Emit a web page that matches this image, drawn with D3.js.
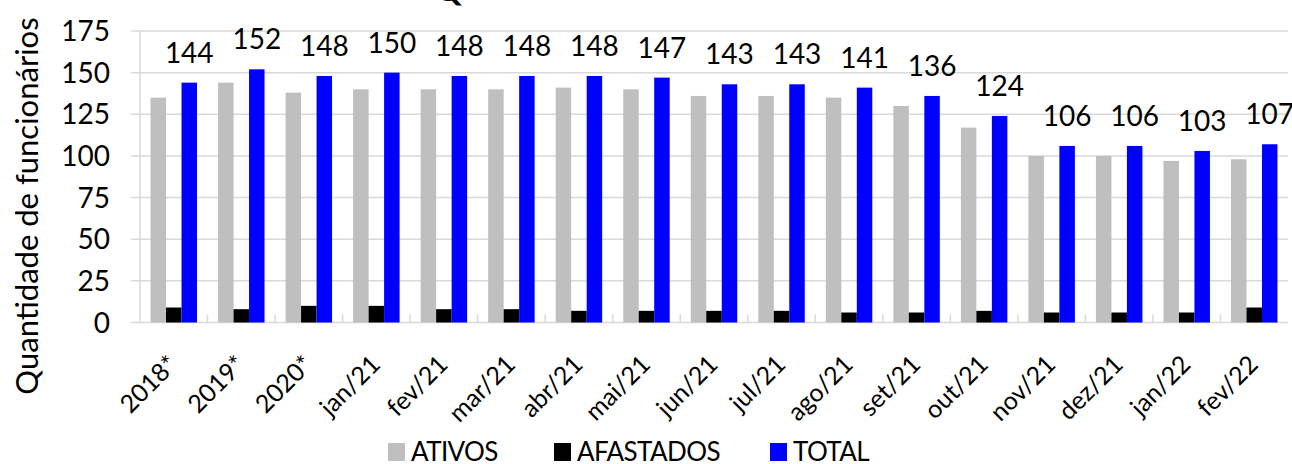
<!DOCTYPE html>
<html>
<head>
<meta charset="utf-8">
<script src="https://cdn.jsdelivr.net/npm/d3@7"></script>
<style>
  body { margin: 0; background: #fff; }
  svg { display: block; font-family: Lato, "Open Sans", sans-serif; }
</style>
</head>
<body>
<svg id="chart" width="1292" height="464"></svg>
<script>
const categories = ["2018*", "2019*", "2020*", "jan/21", "fev/21", "mar/21", "abr/21", "mai/21",
  "jun/21", "jul/21", "ago/21", "set/21", "out/21", "nov/21", "dez/21", "jan/22", "fev/22"];
const ativos    = [135, 144, 138, 140, 140, 140, 141, 140, 136, 136, 135, 130, 117, 100, 100, 97, 98];
const afastados = [9, 8, 10, 10, 8, 8, 7, 7, 7, 7, 6, 6, 7, 6, 6, 6, 9];
const total     = [144, 152, 148, 150, 148, 148, 148, 147, 143, 143, 141, 136, 124, 106, 106, 103, 107];
const seriesNames = ["ATIVOS", "AFASTADOS", "TOTAL"];
const seriesColors = ["#bfbfbf", "#000000", "#0000ff"];
const yTicks = [0, 25, 50, 75, 100, 125, 150, 175];

const svg = d3.select("#chart");
const plotLeft = 140, plotRight = 1288, plotTop = 31, plotBottom = 322.5;

const x = d3.scaleBand().domain(categories).range([plotLeft, plotRight]);
const xs = d3.scaleBand().domain(seriesNames).range([0, x.bandwidth()]).paddingOuter(0.68);
const y = d3.scaleLinear().domain([0, 175]).range([plotBottom, plotTop]);

// gridlines
svg.append("g")
  .selectAll("line")
  .data(yTicks)
  .join("line")
  .attr("x1", plotLeft - 9)
  .attr("x2", plotRight)
  .attr("y1", d => y(d))
  .attr("y2", d => y(d))
  .attr("stroke", "#d9d9d9")
  .attr("stroke-width", 1.5);

// y axis line
svg.append("line")
  .attr("x1", plotLeft).attr("x2", plotLeft)
  .attr("y1", plotTop).attr("y2", plotBottom)
  .attr("stroke", "#d9d9d9").attr("stroke-width", 1.5);

// x category ticks (inside)
svg.append("g")
  .selectAll("line")
  .data(categories.slice(1))
  .join("line")
  .attr("x1", d => x(d)).attr("x2", d => x(d))
  .attr("y1", plotBottom - 8).attr("y2", plotBottom)
  .attr("stroke", "#d9d9d9").attr("stroke-width", 1.5);

// y tick labels
svg.append("g")
  .selectAll("text")
  .data(yTicks)
  .join("text")
  .attr("x", 110)
  .attr("y", d => y(d))
  .attr("dy", "0.36em")
  .attr("text-anchor", "end")
  .attr("font-size", 28)
  .attr("fill", "#000")
  .text(d => d);

// bars
const seriesData = [ativos, afastados, total];
seriesData.forEach((vals, si) => {
  svg.append("g")
    .selectAll("rect")
    .data(vals)
    .join("rect")
    .attr("x", (d, i) => x(categories[i]) + xs(seriesNames[si]))
    .attr("y", d => y(d))
    .attr("width", xs.bandwidth())
    .attr("height", d => plotBottom - y(d))
    .attr("fill", seriesColors[si]);
});

// total labels
svg.append("g")
  .selectAll("text")
  .data(total)
  .join("text")
  .attr("x", (d, i) => x(categories[i]) + xs("TOTAL") + xs.bandwidth() / 2)
  .attr("y", d => y(d) - 20)
  .attr("text-anchor", "middle")
  .attr("font-size", 28)
  .attr("fill", "#000")
  .text(d => d);

// x labels
svg.append("g")
  .selectAll("text")
  .data(categories)
  .join("text")
  .attr("transform", d => `translate(${x(d) + x.bandwidth() / 2 - 7},${plotBottom + 31}) rotate(-45)`)
  .attr("text-anchor", "end")
  .attr("dy", "0.7em")
  .attr("font-size", 25)
  .attr("fill", "#000")
  .text(d => d);

// y axis title
svg.append("text")
  .attr("transform", "translate(38,206) rotate(-90)")
  .attr("text-anchor", "middle")
  .attr("font-size", 31)
  .attr("fill", "#000")
  .text("Quantidade de funcionários");

// clipped title remnant
svg.append("text")
  .attr("x", 448)
  .attr("y", 1)
  .attr("text-anchor", "middle")
  .attr("font-size", 34)
  .attr("font-weight", "bold")
  .attr("fill", "#000")
  .text("Q");

// legend
const legendX = [388, 554, 770];
const legend = svg.append("g")
  .selectAll("g")
  .data(seriesNames)
  .join("g")
  .attr("transform", (d, i) => `translate(${legendX[i]},443)`);
legend.append("rect")
  .attr("width", 17).attr("height", 18)
  .attr("fill", (d, i) => seriesColors[i]);
legend.append("text")
  .attr("x", 23)
  .attr("y", 9)
  .attr("dy", "0.36em")
  .attr("font-size", 26)
  .attr("letter-spacing", -0.6)
  .attr("fill", "#000")
  .text(d => d);
</script>
</body>
</html>
